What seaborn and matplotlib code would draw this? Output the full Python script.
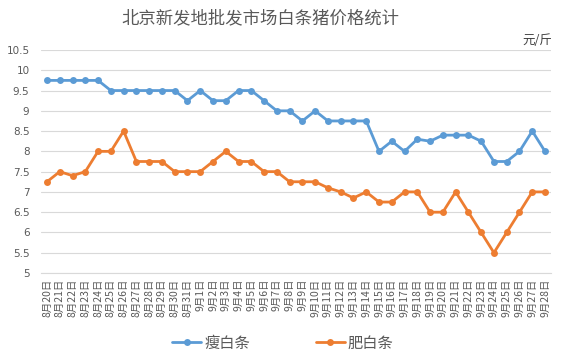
import numpy as np
import pandas as pd
import matplotlib
matplotlib.use("Agg")
import matplotlib.pyplot as plt
import seaborn as sns
from matplotlib.lines import Line2D

dates = [f"8月{d}日" for d in range(20, 32)] + [f"9月{d}日" for d in range(1, 29)]
lean = [9.75, 9.75, 9.75, 9.75, 9.75, 9.5, 9.5, 9.5, 9.5, 9.5, 9.5, 9.25,
        9.5, 9.25, 9.25, 9.5, 9.5, 9.25, 9.0, 9.0, 8.75, 9.0, 8.75, 8.75,
        8.75, 8.75, 8.0, 8.25, 8.0, 8.3, 8.25, 8.4, 8.4, 8.4, 8.25, 7.75,
        7.75, 8.0, 8.5, 8.0]
fat = [7.25, 7.5, 7.4, 7.5, 8.0, 8.0, 8.5, 7.75, 7.75, 7.75, 7.5, 7.5,
       7.5, 7.75, 8.0, 7.75, 7.75, 7.5, 7.5, 7.25, 7.25, 7.25, 7.1, 7.0,
       6.85, 7.0, 6.75, 6.75, 7.0, 7.0, 6.5, 6.5, 7.0, 6.5, 6.0, 5.5,
       6.0, 6.5, 7.0, 7.0]
series_names = ["瘦白条", "肥白条"]
colors = ["#5B9BD5", "#ED7D31"]
yticks = [5, 5.5, 6, 6.5, 7, 7.5, 8, 8.5, 9, 9.5, 10, 10.5]

sns.set_theme(style="white")
plt.rcParams['font.family'] = ['Noto Sans CJK SC', 'DejaVu Sans']

n = len(dates)
df = pd.DataFrame({
    "idx": list(range(n)) * 2,
    "price": lean + fat,
    "series": [series_names[0]] * n + [series_names[1]] * n,
})

fig = plt.figure(figsize=(5.63, 3.63), dpi=100)
ax = fig.add_axes([40.6/563, 1-273/363, (551.4-40.6)/563, (273-50)/363])

sns.lineplot(data=df, x="idx", y="price", hue="series", palette=colors,
             marker="o", markersize=5, markeredgewidth=0, linewidth=2.0,
             ax=ax, legend=False)

ax.set_xlim(-0.5, n - 0.5)
ax.set_ylim(5, 10.5)
ax.set_yticks(yticks)
ax.set_yticklabels([f"{v:g}" for v in yticks], fontsize=7.5, color="#595959",
                   family=['DejaVu Sans'])
ax.set_xticks(range(n))
ax.set_xticklabels(dates, rotation=90, fontsize=7.5, color="#595959")
ax.set_xticks(np.arange(-0.5, n, 1), minor=True)
ax.tick_params(axis="x", which="major", length=0, pad=4)
ax.tick_params(axis="x", which="minor", length=4, color="#D9D9D9", width=0.8)
ax.tick_params(axis="y", length=0, pad=8)
ax.set_xlabel("")
ax.set_ylabel("")
ax.grid(axis="y", color="#D9D9D9", linewidth=0.8)
ax.set_axisbelow(True)
for s in ["top", "right", "left"]:
    ax.spines[s].set_visible(False)
ax.spines["bottom"].set_color("#D9D9D9")
ax.spines["bottom"].set_linewidth(0.8)

fig.text(260/563, 1-18/363, "北京新发地批发市场白条猪价格统计", ha="center", va="center",
         fontsize=12.5, color="#595959")
fig.text(552/563, 1-40/363, "元/斤", ha="right", va="center", fontsize=9, color="#404040")

handles = [Line2D([], [], color=c, linewidth=2.0, marker="o", markersize=5,
                  markeredgewidth=0) for c in colors]
fig.legend(handles, series_names, loc="center", bbox_to_anchor=(283/563, 1-343/363),
           ncol=2, frameon=False, fontsize=11, handlelength=1.9, columnspacing=4.3,
           handletextpad=0.2, labelcolor="#595959")

fig.savefig("out.png", dpi=100, facecolor="white")
